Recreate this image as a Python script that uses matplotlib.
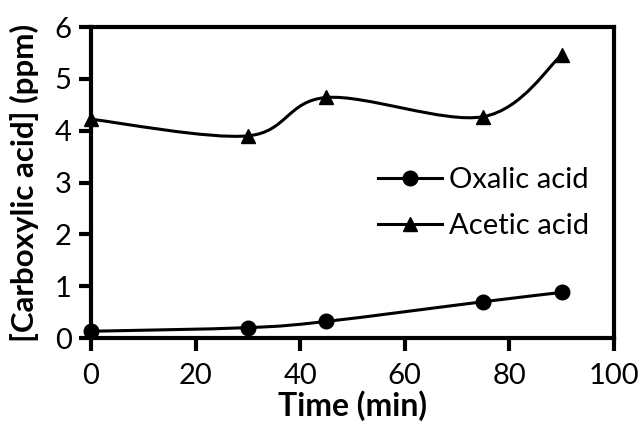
import numpy as np
import matplotlib
matplotlib.use("Agg")
import matplotlib.pyplot as plt
from matplotlib.path import Path
from matplotlib.patches import PathPatch
from matplotlib.lines import Line2D

# data
time_min = [0, 30, 45, 75, 90]
oxalic = [0.13, 0.20, 0.32, 0.70, 0.88]
acetic = [4.22, 3.90, 4.64, 4.27, 5.46]

x_ticks = [0, 20, 40, 60, 80, 100]
y_ticks = [0, 1, 2, 3, 4, 5, 6]

plt.rcParams['font.family'] = ['Lato', 'DejaVu Sans']


def smooth_path(x, y):
    # Excel-style smoothed line: cubic bezier, catmull-rom control points
    x = np.asarray(x, float)
    y = np.asarray(y, float)
    n = len(x)
    verts = [(x[0], y[0])]
    codes = [Path.MOVETO]
    for i in range(n - 1):
        p0 = np.array([x[max(i - 1, 0)], y[max(i - 1, 0)]])
        p1 = np.array([x[i], y[i]])
        p2 = np.array([x[i + 1], y[i + 1]])
        p3 = np.array([x[min(i + 2, n - 1)], y[min(i + 2, n - 1)]])
        c1 = p1 + (p2 - p0) / 6.0
        c2 = p2 - (p3 - p1) / 6.0
        verts += [tuple(c1), tuple(c2), tuple(p2)]
        codes += [Path.CURVE4] * 3
    return Path(verts, codes)


fig = plt.figure(figsize=(6.4, 4.23), dpi=100)
ax = fig.add_axes([91 / 640, 1 - 338 / 423, (614 - 91) / 640, (338 - 27) / 423])

for ys, mk in [(oxalic, 'o'), (acetic, '^')]:
    ax.add_patch(PathPatch(smooth_path(time_min, ys), fill=False, lw=2.2,
                           edgecolor='black', capstyle='round', zorder=2))
    ax.plot(time_min, ys, ls='none', marker=mk, ms=10.5, color='black',
            clip_on=False, zorder=3)

ax.set_xlim(0, 100)
ax.set_ylim(0, 6)
ax.set_xticks(x_ticks)
ax.set_yticks(y_ticks)
for s in ax.spines.values():
    s.set_linewidth(3)
ax.tick_params(direction='out', length=9, width=3, labelsize=21)
ax.tick_params(axis='x', pad=9)
ax.tick_params(axis='y', pad=5)

ax.set_xlabel('Time (min)', fontsize=23, fontweight='bold', labelpad=1)
ax.set_ylabel('[Carboxylic acid] (ppm)', fontsize=22.5, fontweight='bold', labelpad=11)

handles = [Line2D([], [], color='black', lw=2.2, marker='o', ms=10.5),
           Line2D([], [], color='black', lw=2.2, marker='^', ms=10.5)]
ax.legend(handles, ['Oxalic acid', 'Acetic acid'], loc='upper left',
          bbox_to_anchor=(0.548, 0.55), frameon=False, fontsize=21,
          handlelength=2.2, handletextpad=0.25, labelspacing=0.68,
          borderpad=0.0, borderaxespad=0.0)

fig.savefig('out.png', dpi=100)
